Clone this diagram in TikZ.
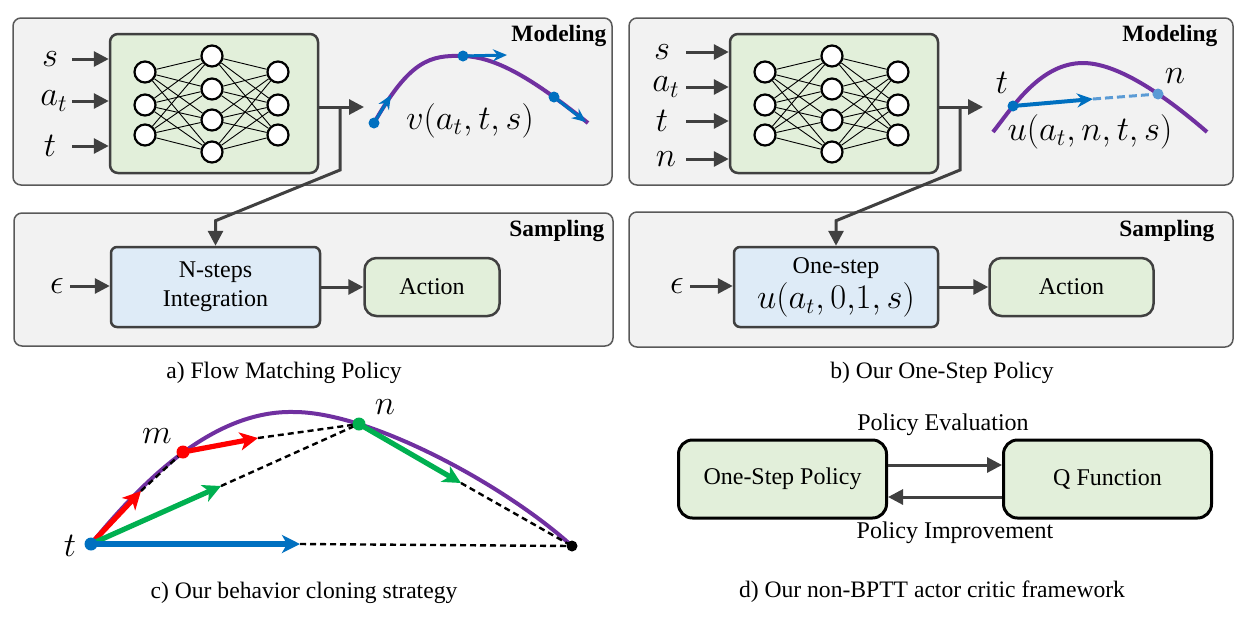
\documentclass[tikz,border=0pt]{standalone}
\usepackage{fontspec}
\setmainfont{Liberation Serif}
\usetikzlibrary{arrows.meta,positioning,calc}
\definecolor{panelfill}{HTML}{F2F2F2}
\definecolor{panelline}{HTML}{595959}
\definecolor{darkline}{HTML}{404040}
\definecolor{boxgreen}{HTML}{E2EFDA}
\definecolor{boxblue}{HTML}{DEEBF7}
\definecolor{flowpurple}{HTML}{7030A0}
\definecolor{velblue}{HTML}{0070C0}
\definecolor{lightblue}{HTML}{5B9BD5}
\definecolor{bcred}{HTML}{FF0000}
\definecolor{bcgreen}{HTML}{00B050}

\begin{document}
\begin{tikzpicture}[x=0.5pt,y=-0.5pt,
        panel/.style={draw=panelline,fill=panelfill,rounded corners=4pt,line width=0.75pt},
        netbox/.style={draw=darkline,fill=boxgreen,rounded corners=4pt,line width=1.25pt,minimum width=104pt,minimum height=69.5pt},
        neuron/.style={circle,draw=black,fill=white,line width=1.1pt,minimum size=10.5pt,inner sep=0pt},
        synapse/.style={line width=0.45pt},
        arr/.style={draw=darkline,line width=1.5pt,-{Triangle[length=7.5pt,width=7.5pt]}},
        tag/.style={font=\fontsize{11.7}{14}\selectfont\bfseries,inner sep=0pt},
        txt/.style={font=\fontsize{12}{14.5}\selectfont},
        captxt/.style={font=\fontsize{11.8}{14}\selectfont},
        lbl/.style={font=\fontsize{16.5}{19}\selectfont,inner sep=0pt},
        stepbox/.style={draw=darkline,fill=boxblue,rounded corners=3pt,line width=1.25pt,minimum height=40pt,align=center,txt},
        actbox/.style={draw=darkline,fill=boxgreen,rounded corners=6pt,line width=1.25pt,minimum height=29pt,txt},
        pbox/.style={draw=black,fill=boxgreen,rounded corners=7pt,line width=1.5pt,minimum width=104pt,minimum height=39pt,txt},
        flow/.style={draw=flowpurple,line width=2pt},
        vel/.style={draw=velblue,line width=1.5pt,-{Stealth[length=7pt,width=6pt]}},
        dot/.style={circle,fill=#1,inner sep=0pt,minimum size=5.5pt},
        bc/.style={draw=#1,line width=2.6pt,-{Stealth[length=9pt,width=9pt,inset=2.5pt]}},
        link/.style={draw=black,line width=1.2pt,dash pattern=on 3pt off 2pt}]
   \useasboundingbox (0,0) rectangle (1245,622);

   % panels
   \node[panel,minimum width=299.5pt,minimum height=83.5pt] (amodel) at (312.5,101.5) {};
   \node[panel,minimum width=299.5pt,minimum height=66.5pt] (asample) at (313.5,279.5) {};
   \node[panel,minimum width=302pt,minimum height=83.5pt] (bmodel) at (931,101.5) {};
   \node[panel,minimum width=302pt,minimum height=67.5pt] (bsample) at (931,279.5) {};
   \node[tag,anchor=east] (amodeltag) at ($(amodel.north east)+(-6,19)$) {Modeling};
   \node[tag,anchor=east] (asampletag) at ($(asample.north east)+(-9,19)$) {Sampling};
   \node[tag,anchor=east] (bmodeltag) at ($(bmodel.north east)+(-16,19)$) {Modeling};
   \node[tag,anchor=east] (bsampletag) at ($(bsample.north east)+(-19,20)$) {Sampling};

   % networks
   \foreach \pn/\dx in {a/0,b/620}{
     \begin{scope}[shift={(\dx,0)}]
       \node[netbox] (\pn net) at (214,103.5) {};
       \foreach \y [count=\i] in {72,105,135} \node[neuron] (\pn1-\i) at (145,\y) {};
       \foreach \y [count=\i] in {56,89,120,152} \node[neuron] (\pn2-\i) at (212,\y) {};
       \foreach \y [count=\i] in {72,105,135} \node[neuron] (\pn3-\i) at (278,\y) {};
       \foreach \i in {1,2,3} \foreach \j in {1,...,4} {
         \draw[synapse] (\pn1-\i) -- (\pn2-\j);
         \draw[synapse] (\pn2-\j) -- (\pn3-\i);
       }
     \end{scope}
   }

   % a) inputs
   \coordinate (ain) at (72,0);
   \node[lbl] (as) at (50,59) {$s$};
   \node[lbl] (aat) at (54,101) {$a_t$};
   \node[lbl] (atime) at (50,146) {$t$};
   \foreach \n in {as,aat,atime} \draw[arr] (\n -| ain) -- (\n -| anet.west);

   % a) sampling
   \node[stepbox,minimum width=104.5pt] (ansteps) at (215.5,287) {N-steps\\Integration};
   \node[actbox,minimum width=67.5pt,right=21pt of ansteps] (aaction) {Action};
   \node[lbl] (aeps) at (57,286) {$\epsilon$};
   \coordinate (aepsin) at (70,0);
   \draw[arr] (aeps -| aepsin) -- (ansteps.west |- aeps);
   \draw[arr] (ansteps) -- (aaction);

   % a) output
   \coordinate (aout) at (364,107);
   \coordinate (abr) at (340,107);
   \coordinate (abend) at (340,170);
   \draw[arr] (anet.east |- aout) -- (aout);
   \draw[arr] (abr) -- (abend) -- ($(ansteps.north)+(0,-25)$) -- (ansteps.north);

   % a) velocity field
   \coordinate (vs) at (374,123);
   \coordinate (vp) at (463,56);
   \coordinate (ve) at (588,123);
   \coordinate (vq) at (554,97);
   \coordinate (vs2) at (391,95);
   \coordinate (vp2) at (507,55);
   \coordinate (vq2) at (586,122);
   \draw[flow] (vs) .. controls (410,60) and (430,55) .. (vp) .. controls (500,57) and (540,85) .. (ve);
   \draw[vel] (vs) -- (vs2);
   \draw[vel] (vp) -- (vp2);
   \draw[vel] (vq) -- (vq2);
   \node[dot=velblue] (vsdot) at (vs) {};
   \node[dot=velblue] (vpdot) at (vp) {};
   \node[dot=velblue] (vqdot) at (vq) {};
   \node[lbl] (vlab) at (470,121) {$v(a_t,t,s)$};
   \node[captxt] (acap) at (284,373) {a) Flow Matching Policy};

   % b) inputs
   \coordinate (bin) at (686,0);
   \node[lbl] (bs) at (662,52) {$s$};
   \node[lbl] (bat) at (666,87) {$a_t$};
   \node[lbl] (btime) at (662,121) {$t$};
   \node[lbl] (bn) at (666,159) {$n$};
   \foreach \n in {bs,bat,btime,bn} \draw[arr] (\n -| bin) -- (\n -| bnet.west);

   % b) sampling
   \node[stepbox,minimum width=102pt] (bone) at (836,287) {One-step\\[1pt]{\fontsize{16}{17}\selectfont$u(a_t,0{,}1,s)$}};
   \node[actbox,minimum width=82pt,right=24.5pt of bone] (baction) {Action};
   \node[lbl] (beps) at (677,286) {$\epsilon$};
   \coordinate (bepsin) at (690,0);
   \draw[arr] (beps -| bepsin) -- (bone.west |- beps);
   \draw[arr] (bone) -- (baction);

   % b) output
   \coordinate (bout) at (983,107);
   \coordinate (bbr) at (960,107);
   \coordinate (bbend) at (960,170);
   \draw[arr] (bnet.east |- bout) -- (bout);
   \draw[arr] (bbr) -- (bbend) -- ($(bone.north)+(0,-25)$) -- (bone.north);

   % b) one-step map
   \coordinate (us) at (993,132);
   \coordinate (up) at (1083,63);
   \coordinate (ue) at (1207,132);
   \coordinate (ut) at (1013,106);
   \coordinate (un) at (1158,94);
   \coordinate (utip) at (1093,99);
   \draw[flow] (us) .. controls (1012,108) and (1040,63) .. (up) .. controls (1120,63) and (1170,100) .. (ue);
   \draw[draw=lightblue,line width=1.5pt,dash pattern=on 4pt off 2pt] (utip) -- (un);
   \draw[draw=velblue,line width=2pt,-{Stealth[length=8pt,width=7pt]}] (ut) -- (utip);
   \node[dot=velblue] (utdot) at (ut) {};
   \node[dot=lightblue] (undot) at (un) {};
   \node[lbl] (utlab) at (1002,83) {$t$};
   \node[lbl] (unlab) at (1175,76) {$n$};
   \node[lbl] (ulab) at (1090,132) {$u(a_t,n,t,s)$};
   \node[captxt] (bcap) at (942,373) {b) Our One-Step Policy};

   % c) behavior cloning
   \coordinate (ct) at (91,544);
   \coordinate (cm) at (183,452);
   \coordinate (cn) at (359,424);
   \coordinate (cend) at (572,546);
   \coordinate (cr1) at (141,491);
   \coordinate (cr2) at (258,438);
   \coordinate (cg1) at (221,486);
   \coordinate (cg2) at (461,483);
   \coordinate (cb) at (300,544);
   \draw[flow] (ct) .. controls (145,478) and (215,410) .. (294,412) .. controls (370,412) and (505,485) .. (cend);
   \draw[link] (cr1) -- (cm);
   \draw[link] (cr2) -- (cn);
   \draw[link] (cg1) -- (cn);
   \draw[link] (cg2) -- (cend);
   \draw[link] (cb) -- (cend);
   \draw[bc=bcred] (ct) -- (cr1);
   \draw[bc=bcred] (cm) -- (cr2);
   \draw[bc=bcgreen] (ct) -- (cg1);
   \draw[bc=bcgreen] (cn) -- (cg2);
   \draw[bc=velblue] (ct) -- (cb);
   \node[dot=velblue,minimum size=6.5pt] (ctdot) at (ct) {};
   \node[dot=bcred,minimum size=6.5pt] (cmdot) at (cm) {};
   \node[dot=bcgreen,minimum size=6.5pt] (cndot) at (cn) {};
   \node[dot=black,minimum size=5.5pt] (cenddot) at (cend) {};
   \node[lbl] (ctlab) at (70,546) {$t$};
   \node[lbl] (cmlab) at (157,436) {$m$};
   \node[lbl] (cnlab) at (385,407) {$n$};
   \node[captxt] (ccap) at (304,593) {c) Our behavior cloning strategy};

   % d) actor critic
   \node[pbox] (dpolicy) at (782.5,479) {One-Step Policy};
   \node[pbox,right=57pt of dpolicy] (dq) {Q Function};
   \draw[arr] ([yshift=7pt]dpolicy.east) -- ([yshift=7pt]dq.west);
   \draw[arr] ([yshift=-9pt]dq.west) -- ([yshift=-9pt]dpolicy.east);
   \node[txt] (deval) at (943,425) {Policy Evaluation};
   \node[txt] (dimpr) at (955,533) {Policy Improvement};
   \node[captxt] (dcap) at (932,592) {d) Our non-BPTT actor critic framework};

\end{tikzpicture}
\end{document}
